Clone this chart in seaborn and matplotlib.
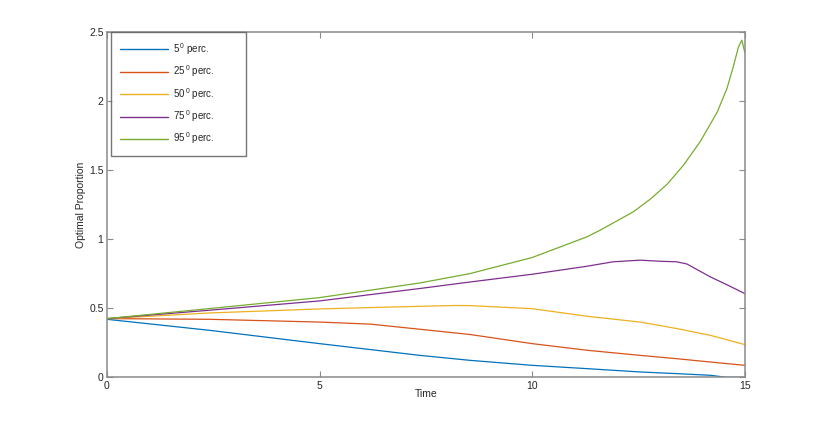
import matplotlib
matplotlib.use("Agg")
from matplotlib import pyplot as plt
import pandas as pd
import seaborn as sns

# percentile curves
t_p5 = [0, 2.42, 5, 7.36, 8.54, 10, 11.29, 12.54, 13.4, 14.19, 14.58, 15]
v_p5 = [0.42, 0.34, 0.244, 0.159, 0.123, 0.087, 0.063, 0.039, 0.027, 0.015, 0.0, 0.0]

t_p25 = [0, 2.42, 5, 6.2, 7.36, 8.54, 10, 11.29, 12.54, 13.4, 14.19, 15]
v_p25 = [0.425, 0.42, 0.40, 0.385, 0.348, 0.31, 0.244, 0.196, 0.159, 0.135, 0.111, 0.087]

t_p50 = [0, 2.42, 5, 6.2, 7.36, 8.2, 8.54, 10, 11.29, 12.54, 13.4, 14.19, 15]
v_p50 = [0.425, 0.466, 0.495, 0.505, 0.514, 0.52, 0.519, 0.497, 0.442, 0.40, 0.353, 0.304, 0.237]

t_p75 = [0, 2.42, 5, 7.36, 8.54, 10, 11.29, 11.9, 12.54, 13.0, 13.4, 13.64, 14.19, 14.58, 15]
v_p75 = [0.425, 0.486, 0.553, 0.643, 0.69, 0.746, 0.804, 0.836, 0.848, 0.84, 0.836, 0.82, 0.727, 0.67, 0.606]

t_p95 = [0, 2.42, 5, 7.36, 8.54, 10, 11.29, 11.6, 12.38, 12.78, 13.17, 13.56, 13.95, 14.35,
         14.58, 14.74, 14.85, 14.93, 15]
v_p95 = [0.425, 0.498, 0.577, 0.683, 0.751, 0.867, 1.017, 1.065, 1.198, 1.29, 1.396, 1.536, 1.705, 1.918,
         2.09, 2.26, 2.39, 2.44, 2.35]

labels = ["5$^{\\,0}$ perc.", "25$^{\\,0}$ perc.", "50$^{\\,0}$ perc.", "75$^{\\,0}$ perc.", "95$^{\\,0}$ perc."]
colors = ["#0072BD", "#D95319", "#EDB120", "#7E2F8E", "#77AC30"]

x_ticks = [0, 5, 10, 15]
y_ticks = [0, 0.5, 1, 1.5, 2, 2.5]
y_tick_labels = ["0", "0.5", "1", "1.5", "2", "2.5"]

series = [(t_p5, v_p5), (t_p25, v_p25), (t_p50, v_p50), (t_p75, v_p75), (t_p95, v_p95)]
frames = []
for lab, (t, v) in zip(labels, series):
    frames.append(pd.DataFrame({"Time": t, "value": v, "series": lab}))
df = pd.concat(frames, ignore_index=True)

sns.set_style("white")
plt.rcParams["font.family"] = ["Liberation Sans", "DejaVu Sans"]
plt.rcParams["mathtext.default"] = "regular"

fig = plt.figure(figsize=(8.23, 4.24), dpi=100)
ax = fig.add_axes([0.13, 0.11, 0.775, 0.815])

sns.lineplot(data=df, x="Time", y="value", hue="series", hue_order=labels,
             palette=colors, estimator=None, sort=True, linewidth=0.9, ax=ax)

ax.set_xlim(0, 15)
ax.set_ylim(0, 2.5)
ax.set_xticks(x_ticks)
ax.set_xticklabels([str(x) for x in x_ticks])
ax.set_yticks(y_ticks)
ax.set_yticklabels(y_tick_labels)
ax.set_xlabel("Time", fontsize=7.5, color="#262626", labelpad=-1.5)
ax.set_ylabel("Optimal Proportion", fontsize=7.5, color="#262626", labelpad=2.2)

for side in ["left", "right", "top", "bottom"]:
    ax.spines[side].set_visible(True)
    ax.spines[side].set_color("#8a8a8a")
    ax.spines[side].set_linewidth(1.1)
ax.tick_params(direction="in", length=4, width=0.8, color="#8a8a8a",
               labelsize=7.5, labelcolor="#262626", pad=2.5,
               top=True, right=True, left=True, bottom=True)

# legend box in the upper-left corner, stretched like MATLAB's
leg = ax.legend(loc="upper left", bbox_to_anchor=(0.0063, 0.0, 0.2116, 1.0), mode="expand",
                fontsize=7, frameon=True, fancybox=False,
                handlelength=4.9, handletextpad=0.5, labelspacing=0.68,
                borderpad=0.95, borderaxespad=0.0)
leg.get_frame().set_edgecolor("#555555")
leg.get_frame().set_linewidth(1.0)
for line in leg.get_lines():
    line.set_linewidth(1.0)

fig.savefig("out.png", dpi=100)
plt.close(fig)
